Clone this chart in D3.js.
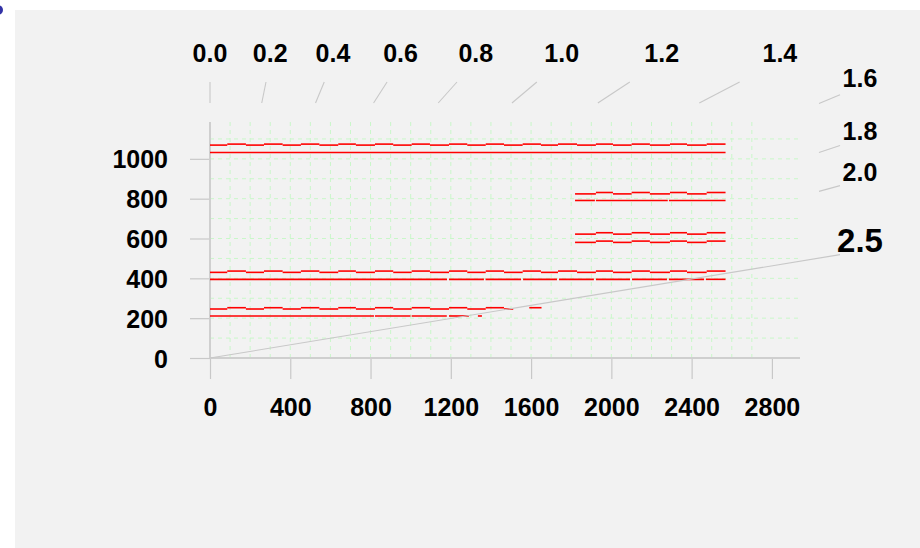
<!DOCTYPE html>
<html>
<head>
<meta charset="utf-8">
<script src="https://cdn.jsdelivr.net/npm/d3@7"></script>
<style>
  body { margin: 0; background: #fff; }
  svg { display: block; }
  text { font-family: "Liberation Sans", Arial, sans-serif; font-weight: bold; fill: #000; }
</style>
</head>
<body>
<svg id="chart"></svg>
<script>
const width = 920;
const height = 548;

// axis ticks
const xTicks = [0, 400, 800, 1200, 1600, 2000, 2400, 2800];
const yTicks = [0, 200, 400, 600, 800, 1000];
const xGrid = d3.range(100, 2800, 100);
const yGrid = d3.range(100, 1200, 100);

// curved "ratio" axis along the top / right
const rayTicks = [0.0, 0.2, 0.4, 0.6, 0.8, 1.0, 1.2, 1.4, 1.6, 1.8, 2.0, 2.5];
const rayLabels = ['0.0', '0.2', '0.4', '0.6', '0.8', '1.0', '1.2', '1.4', '1.6', '1.8', '2.0', '2.5'];

// x positions where the stepped red rows switch level
const stepBreaks = [0, 86, 179, 269, 362, 453, 545, 639, 727, 822, 913, 1005, 1096, 1191,
  1282, 1374, 1465, 1558, 1649, 1734, 1829, 1923, 2008, 2101, 2192, 2292, 2377, 2475];

// stepped rows: low / high level, first break index, start and end x
const stepLow = [1069, 430, 246, 824, 622, 580.5];
const stepHigh = [1074, 436.5, 252.5, 831, 629, 587];
const stepFirst = [0, 0, 0, 20, 20, 20];
const stepStart = [0, 0, 0, 1819, 1819, 1819];
const stepEnd = [2569, 2569, 1511, 2569, 2569, 2569];

// flat rows: level and pieces
const flatY = [1032, 791, 395, 211, 252.5];
const flatPieces = [
  [[0, 2569]],
  [[1819, 1918], [1923, 2281], [2287, 2569]],
  [[0, 1181], [1191, 1365], [1373, 1550], [1560, 1729], [1739, 1913], [1923, 2093],
   [2103, 2277], [2287, 2462], [2471, 2569]],
  [[0, 817], [822, 999], [1005, 1180], [1191, 1290], [1335, 1355]],
  [[1591, 1652]]
];

const x = d3.scaleLinear().domain([0, 2940]).range([210, 800]);
const y = d3.scaleLinear().domain([0, 1185]).range([358, 122]);

const svg = d3.select('#chart').attr('width', width).attr('height', height);

svg.append('circle').attr('cx', -2).attr('cy', 10).attr('r', 5).attr('fill', '#3232a6');
svg.append('rect')
  .attr('x', 15).attr('y', 10)
  .attr('width', width - 15).attr('height', height - 10)
  .attr('fill', '#f2f2f2');

/* grid */
const grid = svg.append('g')
  .attr('stroke', '#c9f7c9')
  .attr('stroke-width', 1)
  .attr('stroke-dasharray', '4,4');
grid.selectAll('.gx').data(xGrid).enter().append('line')
  .attr('x1', d => x(d)).attr('x2', d => x(d))
  .attr('y1', y(0)).attr('y2', y(1185));
grid.selectAll('.gy').data(yGrid).enter().append('line')
  .attr('x1', x(0)).attr('x2', x(2940))
  .attr('y1', d => y(d)).attr('y2', d => y(d));

/* axes */
const botAxis = d3.axisBottom(x).tickValues(xTicks).tickSize(21).tickPadding(19).tickFormat(d3.format('d'));
const gx = svg.append('g').attr('transform', `translate(0, ${y(0)})`).call(botAxis);
const leftAxis = d3.axisLeft(y).tickValues(yTicks).tickSize(20).tickPadding(22).tickFormat(d3.format('d'));
const gy = svg.append('g').attr('transform', `translate(${x(0)}, 0)`).call(leftAxis);
[gx, gy].forEach(g => {
  g.select('.domain').remove();
  g.selectAll('.tick line').attr('stroke', '#c8c8c8').attr('stroke-width', 1.2);
  g.selectAll('.tick text').style('font-size', '25px').attr('font-family', null);
});
gy.selectAll('.tick text').attr('dy', '0.36em');

svg.append('line')
  .attr('x1', x(0)).attr('x2', x(2940)).attr('y1', y(0)).attr('y2', y(0))
  .attr('stroke', '#cfcfcf').attr('stroke-width', 2);
svg.append('line')
  .attr('x1', x(0)).attr('x2', x(0)).attr('y1', y(0)).attr('y2', y(1185))
  .attr('stroke', '#cfcfcf').attr('stroke-width', 2);

/* red rows */
const segs = [];
stepLow.forEach((lo, r) => {
  for (let i = stepFirst[r]; i < stepBreaks.length; i++) {
    const x0 = i === stepFirst[r] ? stepStart[r] : stepBreaks[i];
    const x1 = Math.min(i + 1 < stepBreaks.length ? stepBreaks[i + 1] : stepEnd[r], stepEnd[r]);
    if (x0 >= stepEnd[r]) break;
    segs.push({ x0, x1, v: (i % 2 === 0) ? lo : stepHigh[r] });
  }
});
flatY.forEach((v, r) => flatPieces[r].forEach(p => segs.push({ x0: p[0], x1: p[1], v })));

svg.append('g')
  .attr('stroke', '#ff0000')
  .attr('stroke-width', 1.6)
  .selectAll('line').data(segs).enter().append('line')
  .attr('x1', d => x(d.x0)).attr('x2', d => x(d.x1))
  .attr('y1', d => y(d.v)).attr('y2', d => y(d.v));

/* ratio rays */
function rayAt(t, top, right) {
  let yv = y.invert(top);
  let xv = yv * Math.sinh(t);
  if (x(xv) <= right) return [x(xv), top];
  xv = x.invert(right);
  yv = xv / Math.sinh(t);
  return [right, y(yv)];
}

const rays = svg.append('g');
rays.selectAll('line').data(rayTicks).enter().append('line')
  .attr('stroke', '#c8c8c8')
  .attr('stroke-width', 1.1)
  .each(function (t, i) {
    const outer = rayAt(t, 82, 840);
    const inner = i === rayTicks.length - 1 ? [x(0), y(0)] : rayAt(t, 103, 819);
    d3.select(this)
      .attr('x1', inner[0]).attr('y1', inner[1])
      .attr('x2', outer[0]).attr('y2', outer[1]);
  });

rays.selectAll('text').data(rayTicks).enter().append('text')
  .attr('text-anchor', 'middle')
  .style('font-size', (t, i) => i === rayTicks.length - 1 ? '33px' : '25px')
  .attr('x', t => rayAt(t, 61, 860)[0])
  .attr('y', t => rayAt(t, 61, 860)[1] + 1)
  .text((t, i) => rayLabels[i]);
</script>
</body>
</html>
